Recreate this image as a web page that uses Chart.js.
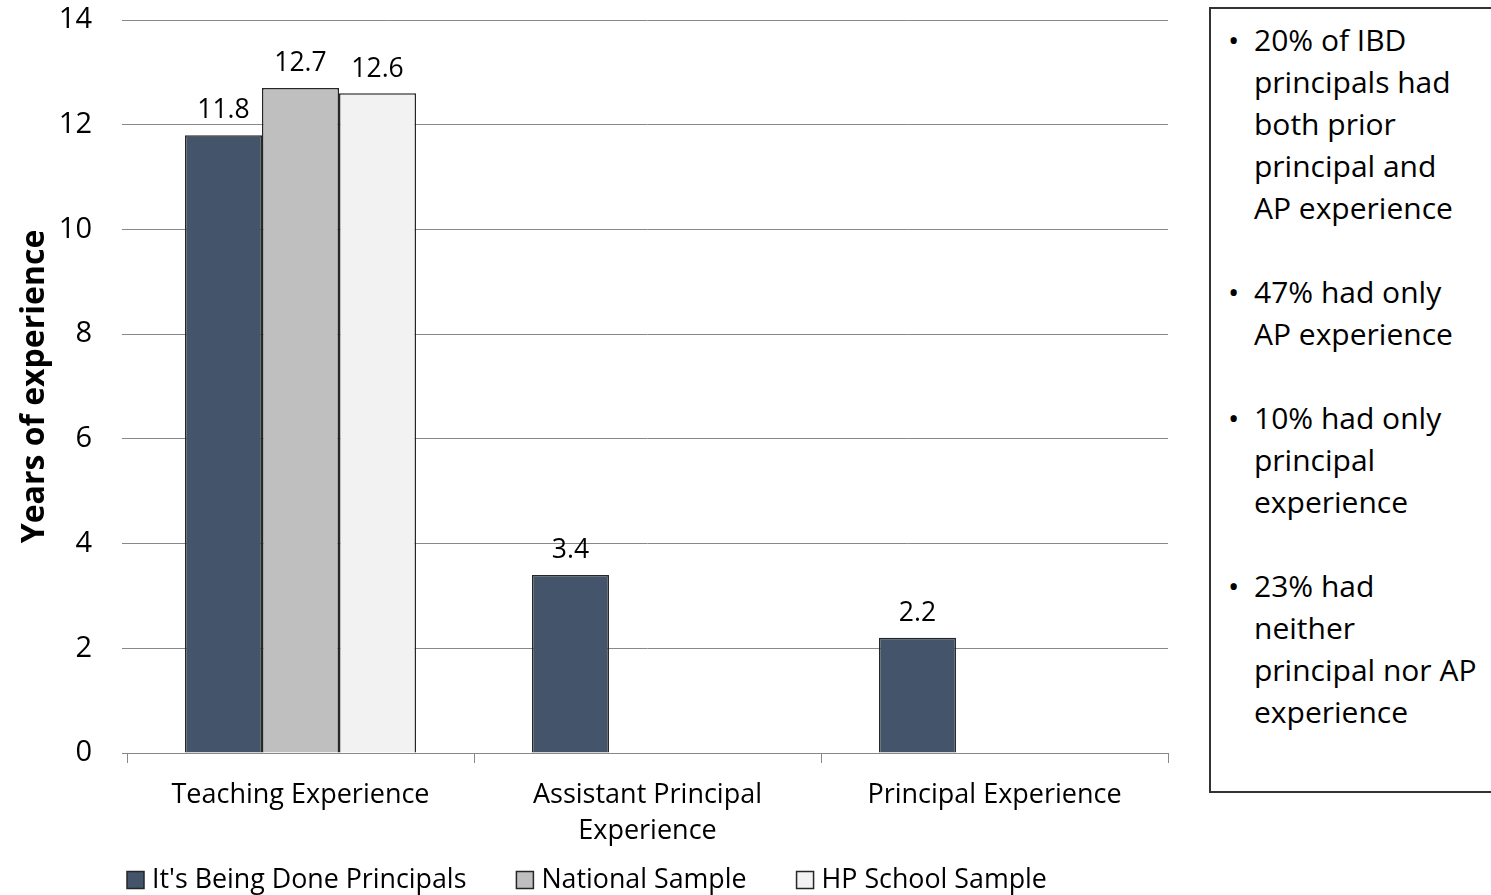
<!DOCTYPE html>
<html>
<head>
<meta charset="utf-8">
<title>Years of experience</title>
<script src="https://cdn.jsdelivr.net/npm/chart.js@4/dist/chart.umd.min.js"></script>
<style>
  body { margin: 0; background: #fff; font-family: "Open Sans", sans-serif; }
  #wrap { position: relative; width: 1491px; height: 895px; overflow: hidden; }
  #chart { position: absolute; left: 0; top: 0; }
  #notes {
    position: absolute; left: 1209px; top: 7px; width: 320px; height: 786px;
    border: 2px solid #333; box-sizing: border-box;
    padding: 10px 0 0 0; font-size: 30px; line-height: 42px; color: #000;
  }
  #notes p { position: relative; margin: 0 0 42px 0; padding-left: 43px; }
  #notes p::before { content: "\2022"; position: absolute; left: 17px; }
</style>
</head>
<body>
<div id="wrap">
  <canvas id="chart" width="1174" height="895"></canvas>
  <div id="notes">
    <p>20% of IBD<br>principals had<br>both prior<br>principal and<br>AP experience</p>
    <p>47% had only<br>AP experience</p>
    <p>10% had only<br>principal<br>experience</p>
    <p>23% had<br>neither<br>principal nor AP<br>experience</p>
  </div>
</div>
<script>
const categories = ['Teaching Experience', ['Assistant Principal', 'Experience'], 'Principal Experience'];
const seriesNames = ["It's Being Done Principals", 'National Sample', 'HP School Sample'];
const ibdPrincipals = [11.8, 3.4, 2.2];
const nationalSample = [12.7, null, null];
const hpSchoolSample = [12.6, null, null];
const yTicks = [0, 2, 4, 6, 8, 10, 12, 14];

const colors = ['#44546a', '#bfbfbf', '#f2f2f2'];
const font = '"Open Sans", sans-serif';

// writes each bar's value just above it
const valueLabels = {
  id: 'valueLabels',
  afterDatasetsDraw(chart) {
    const ctx = chart.ctx;
    ctx.save();
    ctx.font = '26.5px ' + font;
    ctx.fillStyle = '#000';
    ctx.textAlign = 'center';
    ctx.textBaseline = 'bottom';
    chart.data.datasets.forEach((ds, i) => {
      chart.getDatasetMeta(i).data.forEach((bar, j) => {
        const v = ds.data[j];
        if (v == null) return;
        ctx.fillText(v.toFixed(1), bar.x, bar.y - 11);
      });
    });
    ctx.restore();
  }
};

// legend row under the axis labels, starting at the plot's left edge
const bottomLegend = {
  id: 'bottomLegend',
  afterDraw(chart) {
    const ctx = chart.ctx;
    const y = 880;
    let x = chart.chartArea.left;
    ctx.save();
    ctx.font = '26.8px ' + font;
    ctx.textBaseline = 'middle';
    chart.data.datasets.forEach(ds => {
      ctx.fillStyle = ds.backgroundColor;
      ctx.fillRect(x, y - 8.5, 17, 17);
      ctx.strokeStyle = '#262626';
      ctx.lineWidth = 1.5;
      ctx.strokeRect(x, y - 8.5, 17, 17);
      ctx.fillStyle = '#000';
      ctx.fillText(ds.label, x + 25, y);
      x += 25 + ctx.measureText(ds.label).width + 50;
    });
    ctx.restore();
  }
};

const datasets = [ibdPrincipals, nationalSample, hpSchoolSample].map((data, i) => ({
  label: seriesNames[i],
  data,
  backgroundColor: colors[i],
  borderColor: '#262626',
  borderWidth: 1.5,
  categoryPercentage: 0.666,
  barPercentage: 1.0
}));

new Chart(document.getElementById('chart'), {
  type: 'bar',
  data: { labels: categories, datasets },
  options: {
    responsive: false,
    animation: false,
    devicePixelRatio: 1,
    layout: { padding: { top: 20, right: 6, bottom: 0, left: 0 } },
    plugins: {
      legend: { display: false },
      tooltip: { enabled: false }
    },
    scales: {
      x: {
        afterFit: s => { s.height = 142; },
        grid: { offset: true, drawOnChartArea: false, drawTicks: true, tickLength: 10, color: '#888' },
        border: { color: '#888', width: 1 },
        ticks: { font: { family: font, size: 27, lineHeight: 1.34 }, color: '#000', padding: 14, maxRotation: 0, autoSkip: false }
      },
      y: {
        min: yTicks[0],
        max: yTicks[yTicks.length - 1],
        afterFit: s => { s.width = 127; s.paddingTop = 16; s.paddingBottom = 16; },
        afterBuildTicks: s => { s.ticks = yTicks.map(v => ({ value: v })); },
        grid: { color: '#888', tickLength: 5 },
        border: { display: false },
        ticks: { font: { family: font, size: 29 }, color: '#000', padding: 30 },
        title: {
          display: true,
          text: 'Years of experience',
          font: { family: font, size: 32, weight: 'bold' },
          color: '#000',
          padding: { top: 16 }
        }
      }
    }
  },
  plugins: [valueLabels, bottomLegend]
});
</script>
</body>
</html>
